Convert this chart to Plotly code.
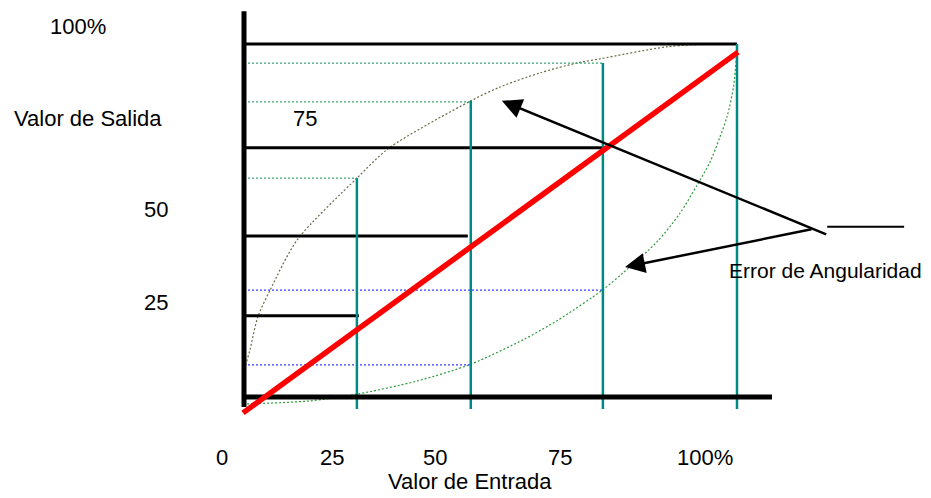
import plotly.graph_objects as go

# ---- diagram values (input % on x, output % on y) ----
# teal vertical markers: input values and their top (output) reached
teal_x = [22.9, 46.0, 72.8, 100.0]
teal_top = [62.0, 83.9, 94.6, 100.0]
teal_bottom = -3.4

# black horizontal (ideal output) levels and where they end on the input axis
ideal_y = [23.0, 45.6, 70.6, 100.0]
ideal_end_x = [23.3, 45.4, 72.8, 100.0]

# green dotted upper-error levels and their end inputs
upper_lvl_y = [62.0, 83.6, 94.6]
upper_lvl_end = [22.9, 46.0, 72.8]

# blue dotted lower-error levels and their end inputs
lower_lvl_y = [9.1, 30.3]
lower_lvl_end = [46.0, 72.8]

# upper error curve
up_x = [0.0, 0.4, 1.2, 2.8, 5.3, 10.8, 22.9, 29.4, 46.0, 51.9, 60.0, 67.5, 72.2, 85.8, 95.1, 100.0]
up_y = [3.4, 9.1, 13.3, 22.7, 30.3, 44.5, 62.0, 70.5, 83.9, 87.8, 91.8, 94.6, 95.8, 99.2, 100.0, 100.0]

# lower error curve
lo_x = [-0.2, 13.4, 22.9, 35.0, 46.0, 57.0, 63.7, 72.8, 76.9, 83.8, 88.4, 91.9, 94.5, 96.5, 98.0, 99.3, 100.0]
lo_y = [-2.0, -1.1, 0.8, 4.5, 9.3, 16.5, 21.8, 30.4, 35.2, 44.0, 52.0, 60.0, 66.5, 73.5, 79.5, 88.0, 98.9]

# ideal (red) characteristic
red_x = [-0.2, 100.2]
red_y = [-4.5, 97.7]

# axes of the diagram
vaxis_x = [0.0, 0.0]
vaxis_y = [-2.8, 109.3]
haxis_x = [-0.4, 107.1]
haxis_y = [0.0, 0.0]

# tick labels
x_tick_text = ["0", "25", "50", "75", "100%"]
x_tick_pos = [-4.5, 17.8, 38.7, 64.1, 93.5]
y_tick_text = ["100%", "75", "50", "25"]
y_tick_xpos = [-33.7, 12.4, -17.9, -17.9]
y_tick_pos = [105.1, 79.0, 53.0, 26.9]

# annotation arrows (tail -> head)
arrow_tail_x = [118.4, 115.4]
arrow_tail_y = [45.9, 47.6]
arrow_head_x = [52.3, 77.3]
arrow_head_y = [83.9, 36.8]
label_line_x = [118.3, 133.9]
label_line_y = [48.2, 48.2]

FONT = "Liberation Sans, Arial, sans-serif"

fig = go.Figure()


def seg(xs, ys, color, width, dash="solid"):
    fig.add_trace(go.Scatter(x=xs, y=ys, mode="lines",
                             line=dict(color=color, width=width, dash=dash),
                             hoverinfo="skip", showlegend=False))


DOT = "2px,2px"

# dotted error curves
fig.add_trace(go.Scatter(x=up_x, y=up_y, mode="lines",
                         line=dict(color="#6b6b45", width=1.2, dash=DOT, shape="spline", smoothing=0.8),
                         hoverinfo="skip", showlegend=False))
fig.add_trace(go.Scatter(x=lo_x, y=lo_y, mode="lines",
                         line=dict(color="#2f9a3a", width=1.2, dash=DOT, shape="spline", smoothing=0.8),
                         hoverinfo="skip", showlegend=False))

# dotted horizontal levels
for yv, xe in zip(upper_lvl_y, upper_lvl_end):
    seg([0, xe], [yv, yv], "#3aa872", 1.2, DOT)
for yv, xe in zip(lower_lvl_y, lower_lvl_end):
    seg([0, xe], [yv, yv], "#3a3aff", 1.2, DOT)

# black ideal output levels
for yv, xe in zip(ideal_y, ideal_end_x):
    seg([0, xe], [yv, yv], "black", 3)

# teal input markers
for xv, yt in zip(teal_x, teal_top):
    seg([xv, xv], [teal_bottom, yt], "#008a84", 2.5)

# diagram axes
seg(vaxis_x, vaxis_y, "black", 5)
seg(haxis_x, haxis_y, "black", 5)

# red characteristic
seg(red_x, red_y, "#ff0000", 5.5)

# label underline stub
seg(label_line_x, label_line_y, "black", 2)

annotations = []
for tx, ty, hx, hy in zip(arrow_tail_x, arrow_tail_y, arrow_head_x, arrow_head_y):
    annotations.append(dict(x=hx, y=hy, ax=tx, ay=ty, xref="x", yref="y",
                            axref="x", ayref="y", text="", showarrow=True,
                            arrowhead=2, arrowsize=1.6, arrowwidth=2.5,
                            arrowcolor="black", standoff=0, startstandoff=0))

tfont = dict(family=FONT, size=22, color="black")
for t, xv in zip(x_tick_text, x_tick_pos):
    annotations.append(dict(x=xv, y=-17.0, text=t, showarrow=False, font=tfont,
                            xref="x", yref="y"))
for t, xv, yv in zip(y_tick_text, y_tick_xpos, y_tick_pos):
    annotations.append(dict(x=xv, y=yv, text=t, showarrow=False, font=tfont,
                            xref="x", yref="y"))
annotations.append(dict(x=-47.1, y=79.0, text="Valor de Salida", showarrow=False,
                        font=tfont, xref="x", yref="y", xanchor="left"))
annotations.append(dict(x=45.8, y=-24.0, text="Valor de Entrada", showarrow=False,
                        font=tfont, xref="x", yref="y"))
annotations.append(dict(x=118.0, y=35.7, text="Error de Angularidad", showarrow=False,
                        font=dict(family=FONT, size=21, color="black"),
                        xref="x", yref="y"))

# page body has an 8px margin: figure fills the rest of the 931x498 window
fig.update_layout(
    width=923, height=490,
    margin=dict(l=0, r=0, t=0, b=0),
    paper_bgcolor="white", plot_bgcolor="white",
    xaxis=dict(range=[-47.87, 139.35], visible=False, fixedrange=True),
    yaxis=dict(range=[-28.61, 110.2], visible=False, fixedrange=True),
    annotations=annotations,
    showlegend=False,
)

fig.write_html("out.html")
